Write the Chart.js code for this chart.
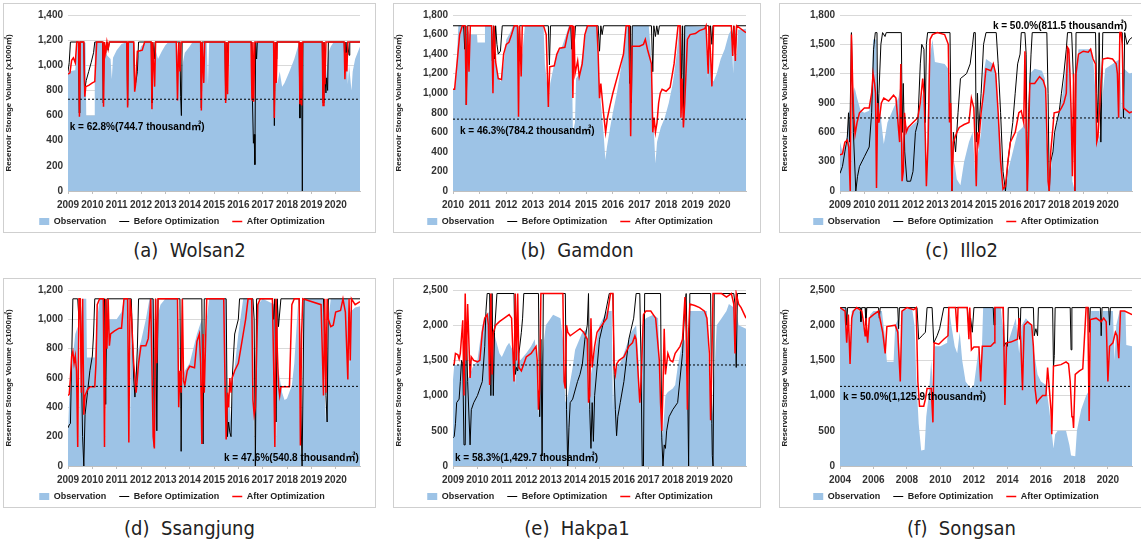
<!DOCTYPE html>
<html>
<head>
<meta charset="utf-8">
<script src="https://cdn.jsdelivr.net/npm/chart.js@4.4.1/dist/chart.umd.min.js"></script>
<style>
  body { margin: 0; background: #fff; width: 1141px; height: 544px; overflow: hidden; position: relative; }
  .box { position: absolute; border: 1px solid #cfcfcf; box-sizing: border-box; }
  .box canvas { display: block; }
  .cap { position: absolute; text-align: center; font-family: 'Liberation Sans Narrow', 'DejaVu Sans Condensed', 'Liberation Sans', sans-serif; font-size: 20px; color: #222; line-height: 24px; }
</style>
</head>
<body>
<div class="box" style="left:3px;top:3px;width:373px;height:230px"><canvas id="a" width="371" height="228"></canvas></div>
<div class="box" style="left:393px;top:3px;width:368px;height:230px"><canvas id="b" width="366" height="228"></canvas></div>
<div class="box" style="left:779px;top:3px;width:365px;height:230px"><canvas id="c" width="363" height="228"></canvas></div>
<div class="box" style="left:3px;top:278px;width:373px;height:230px"><canvas id="d" width="371" height="228"></canvas></div>
<div class="box" style="left:393px;top:278px;width:368px;height:230px"><canvas id="e" width="366" height="228"></canvas></div>
<div class="box" style="left:779px;top:278px;width:365px;height:230px"><canvas id="f" width="363" height="228"></canvas></div>
<div class="cap" style="left:3px;width:373px;top:238px">(a)&nbsp; Wolsan2</div>
<div class="cap" style="left:393px;width:368px;top:238px">(b)&nbsp; Gamdon</div>
<div class="cap" style="left:779px;width:365px;top:238px">(c)&nbsp; Illo2</div>
<div class="cap" style="left:3px;width:373px;top:516px">(d)&nbsp; Ssangjung</div>
<div class="cap" style="left:393px;width:368px;top:516px">(e)&nbsp; Hakpa1</div>
<div class="cap" style="left:779px;width:365px;top:516px">(f)&nbsp; Songsan</div>
<script>
// ---- tick labels ----
const years2009 = [2009, 2010, 2011, 2012, 2013, 2014, 2015, 2016, 2017, 2018, 2019, 2020];
const years2010 = [2010, 2011, 2012, 2013, 2014, 2015, 2016, 2017, 2018, 2019, 2020];
const years2004 = [2004, 2006, 2008, 2010, 2012, 2014, 2016, 2018, 2020];
const ticks1400 = [0, 200, 400, 600, 800, 1000, 1200, 1400];
const ticks1800 = [0, 200, 400, 600, 800, 1000, 1200, 1400, 1600, 1800];
const ticks1800b = [0, 300, 600, 900, 1200, 1500, 1800];
const ticks1200 = [0, 200, 400, 600, 800, 1000, 1200];
const ticks2500 = [0, 500, 1000, 1500, 2000, 2500];

// ---- thresholds and notes ----
const kLevels = [730, 735, 747, 543, 1435, 1131];
const kNotes = [
  'k = 62.8%(744.7 thousand㎥)',
  'k = 46.3%(784.2 thousand㎥)',
  'k = 50.0%(811.5 thousand㎥)',
  'k = 47.6%(540.8 thousand㎥)',
  'k = 58.3%(1,429.7 thousand㎥)',
  'k = 50.0%(1,125.9 thousand㎥)'
];

// ---- (a) Wolsan2 ----
const wolsanObs = [[2009.0,950],[2009.3,960],[2009.38,1180],[2009.44,1180],[2009.47,600],[2009.5,1180],[2009.72,1180],[2009.75,600],[2010.08,600],[2010.1,1180],[2010.42,1180],[2010.45,700],[2010.5,1150],[2010.6,1080],[2010.75,1050],[2010.8,890],[2010.85,1060],[2011.0,1120],[2011.2,1170],[2011.35,1180],[2011.42,1180],[2011.45,680],[2011.5,1180],[2011.7,1180],[2011.75,820],[2011.85,1050],[2012.0,1150],[2012.15,1180],[2012.42,1180],[2012.45,620],[2012.5,1180],[2012.6,1120],[2012.7,1050],[2012.85,1110],[2013.0,1160],[2013.1,1180],[2013.45,1180],[2013.5,1100],[2013.6,950],[2013.65,700],[2013.7,1000],[2013.8,1100],[2014.0,1150],[2014.1,1180],[2014.45,1180],[2014.5,640],[2014.55,1180],[2014.7,1180],[2014.75,850],[2014.8,1180],[2015.45,1180],[2015.5,720],[2015.55,1180],[2015.6,760],[2015.65,1180],[2016.5,1180],[2016.55,720],[2016.62,700],[2016.66,1180],[2017.45,1180],[2017.5,560],[2017.55,1100],[2017.6,850],[2017.7,950],[2017.8,830],[2017.9,860],[2018.1,950],[2018.3,1050],[2018.45,1150],[2018.52,1180],[2018.55,600],[2018.6,700],[2018.65,680],[2018.7,1180],[2019.45,1180],[2019.5,680],[2019.55,1100],[2019.6,900],[2019.7,1100],[2019.8,1150],[2019.9,1180],[2020.35,1180],[2020.4,900],[2020.45,1150],[2020.5,850],[2020.55,1000],[2020.65,800],[2020.7,950],[2020.8,1050],[2020.9,1100],[2021.0,1150]];
const wolsanBefore = [[2009.0,950],[2009.05,1020],[2009.1,1185],[2009.43,1185],[2009.46,620],[2009.49,1185],[2009.65,1185],[2009.68,800],[2009.75,880],[2009.85,950],[2009.95,1020],[2010.05,1100],[2010.1,1185],[2010.42,1185],[2010.45,700],[2010.48,1185],[2010.55,1100],[2010.6,1185],[2010.65,1120],[2010.7,1185],[2011.42,1185],[2011.45,680],[2011.48,1185],[2011.7,1185],[2011.74,820],[2011.8,880],[2011.85,950],[2011.9,1185],[2012.42,1185],[2012.45,700],[2012.48,1185],[2012.55,1050],[2012.58,1185],[2013.6,1185],[2013.63,750],[2013.66,600],[2013.69,1185],[2014.45,1185],[2014.48,660],[2014.51,1185],[2015.45,1185],[2015.48,720],[2015.52,1185],[2015.55,1050],[2015.58,1185],[2016.55,1185],[2016.58,720],[2016.62,380],[2016.65,450],[2016.68,210],[2016.71,1185],[2016.75,1050],[2016.78,1185],[2017.45,1185],[2017.48,520],[2017.52,1185],[2017.55,1050],[2017.58,1185],[2018.5,1185],[2018.53,580],[2018.57,1185],[2018.6,1000],[2018.63,0],[2018.66,1185],[2019.45,1185],[2019.48,700],[2019.52,1185],[2019.55,950],[2019.6,780],[2019.63,900],[2019.67,800],[2019.7,1185],[2020.35,1185],[2020.38,1000],[2020.42,1185],[2020.45,1100],[2020.48,1185],[2020.55,1080],[2020.58,1185],[2021.0,1185]];
const wolsanAfter = [[2009.0,930],[2009.08,940],[2009.15,1040],[2009.22,1060],[2009.3,1020],[2009.36,1185],[2009.44,1185],[2009.47,590],[2009.5,1185],[2009.65,1185],[2009.69,750],[2009.73,830],[2009.85,840],[2010.0,860],[2010.1,870],[2010.18,1185],[2010.43,1185],[2010.46,670],[2010.5,1185],[2010.55,1100],[2010.6,1185],[2010.65,1130],[2010.7,1185],[2011.42,1185],[2011.45,665],[2011.48,1185],[2011.7,1185],[2011.74,790],[2011.78,850],[2011.85,1110],[2012.05,1120],[2012.15,1185],[2012.42,1185],[2012.45,650],[2012.48,1185],[2012.56,830],[2012.6,1185],[2013.45,1185],[2013.5,720],[2013.55,1185],[2013.6,950],[2013.65,1185],[2014.45,1185],[2014.48,640],[2014.52,1185],[2014.58,860],[2014.62,1185],[2015.45,1185],[2015.48,700],[2015.52,1185],[2015.56,770],[2015.6,1185],[2016.52,1185],[2016.56,720],[2016.6,1185],[2016.63,710],[2016.68,1185],[2017.45,1185],[2017.48,580],[2017.52,1185],[2017.56,860],[2017.6,1185],[2018.5,1185],[2018.53,690],[2018.57,1185],[2018.6,680],[2018.64,1185],[2019.45,1185],[2019.48,680],[2019.52,1185],[2019.56,850],[2019.6,1185],[2020.35,1185],[2020.38,890],[2020.42,1100],[2020.46,950],[2020.5,1185],[2021.0,1185]];

// ---- (b) Gamdon ----
const gamdonObs = [[2010.0,1030],[2010.06,1040],[2010.12,1200],[2010.2,1690],[2010.44,1690],[2010.47,900],[2010.52,1690],[2010.62,1600],[2010.9,1600],[2010.92,1520],[2011.18,1520],[2011.2,1690],[2011.45,1690],[2011.48,1000],[2011.52,1400],[2011.6,1300],[2011.7,1150],[2011.8,1120],[2011.9,1300],[2012.0,1550],[2012.15,1620],[2012.25,1690],[2012.43,1690],[2012.46,760],[2012.5,1200],[2012.6,1400],[2012.7,1690],[2013.4,1690],[2013.45,1300],[2013.55,1050],[2013.6,850],[2013.65,1100],[2013.8,1300],[2013.9,1400],[2014.1,1480],[2014.25,1600],[2014.35,1690],[2014.45,1690],[2014.5,600],[2014.58,700],[2014.62,1150],[2014.75,1200],[2014.9,1450],[2015.0,1690],[2015.4,1690],[2015.45,1300],[2015.55,900],[2015.65,600],[2015.72,320],[2015.78,450],[2015.9,650],[2016.0,800],[2016.15,1000],[2016.3,1250],[2016.45,1500],[2016.52,1690],[2016.62,1690],[2016.66,560],[2016.72,1690],[2017.35,1690],[2017.42,1450],[2017.5,900],[2017.56,500],[2017.6,280],[2017.66,500],[2017.8,650],[2017.95,750],[2018.1,900],[2018.25,1100],[2018.4,1400],[2018.5,1690],[2018.56,750],[2018.6,700],[2018.68,1690],[2019.5,1680],[2019.55,1150],[2019.6,1600],[2019.7,1150],[2019.78,1120],[2019.9,1200],[2020.05,1350],[2020.2,1450],[2020.35,1600],[2020.45,1650],[2020.52,1200],[2020.56,1650],[2020.65,1350],[2020.7,1650],[2021.0,1660]];
const gamdonBefore = [[2010.0,1690],[2010.4,1690],[2010.44,1450],[2010.48,1690],[2010.5,880],[2010.54,1690],[2011.45,1690],[2011.48,1330],[2011.52,1690],[2011.56,1350],[2011.6,1690],[2011.65,1500],[2011.7,1400],[2011.78,1430],[2011.85,1690],[2012.43,1690],[2012.46,1380],[2012.5,1690],[2013.58,1690],[2013.62,1290],[2013.66,1690],[2014.42,1690],[2014.46,1450],[2014.5,1690],[2014.55,1500],[2014.6,1690],[2015.45,1690],[2015.5,1430],[2015.55,1690],[2015.6,1600],[2015.65,1690],[2016.6,1690],[2016.63,1100],[2016.66,1690],[2016.7,900],[2016.73,1690],[2017.45,1690],[2017.5,1220],[2017.54,1690],[2017.6,1580],[2017.65,1690],[2017.7,1600],[2017.75,1690],[2018.55,1690],[2018.58,1100],[2018.62,1690],[2018.66,800],[2018.7,1690],[2019.6,1690],[2019.63,1480],[2019.67,1690],[2019.72,1500],[2019.76,1690],[2020.45,1690],[2020.5,1500],[2020.54,1690],[2020.6,1400],[2020.64,1690],[2021.0,1690]];
const gamdonAfter = [[2010.0,1040],[2010.06,1040],[2010.15,1300],[2010.25,1600],[2010.35,1690],[2010.45,1690],[2010.5,880],[2010.55,1690],[2010.6,1220],[2010.65,1690],[2011.45,1690],[2011.5,1000],[2011.54,1690],[2011.6,1320],[2011.7,1150],[2011.82,1140],[2011.9,1400],[2012.0,1500],[2012.1,1520],[2012.2,1600],[2012.3,1690],[2012.42,1690],[2012.46,760],[2012.5,1690],[2012.56,1170],[2012.6,1690],[2013.4,1690],[2013.5,1600],[2013.58,860],[2013.63,1270],[2013.8,1280],[2013.9,1400],[2014.0,1460],[2014.2,1470],[2014.3,1600],[2014.4,1690],[2014.47,1690],[2014.5,950],[2014.54,1690],[2014.58,1200],[2014.68,1330],[2014.74,1170],[2014.85,1300],[2014.95,1600],[2015.05,1690],[2015.4,1690],[2015.45,1400],[2015.5,950],[2015.55,1100],[2015.65,800],[2015.73,600],[2015.8,750],[2015.9,880],[2016.0,1000],[2016.2,1200],[2016.4,1400],[2016.5,1690],[2016.62,1690],[2016.67,560],[2016.72,1480],[2017.0,1480],[2017.15,1500],[2017.22,1550],[2017.3,1450],[2017.45,1300],[2017.5,600],[2017.55,750],[2017.6,600],[2017.66,700],[2017.72,900],[2017.78,1000],[2017.85,1040],[2018.0,1020],[2018.15,1060],[2018.3,1300],[2018.45,1690],[2018.52,1690],[2018.56,750],[2018.6,1150],[2018.65,650],[2018.7,900],[2018.8,1550],[2018.9,1600],[2019.1,1610],[2019.25,1640],[2019.45,1660],[2019.5,1690],[2019.58,1200],[2019.62,1690],[2019.72,1070],[2019.78,1690],[2020.45,1690],[2020.5,1380],[2020.55,1690],[2020.6,1330],[2020.65,1690],[2021.0,1620]];

// ---- (c) Illo2 ----
const illoObs = [[2009.0,500],[2009.1,400],[2009.25,480],[2009.38,820],[2009.42,820],[2009.45,0],[2009.5,900],[2009.6,1060],[2009.7,950],[2009.85,820],[2010.0,800],[2010.2,820],[2010.3,1000],[2010.36,1550],[2010.5,1550],[2010.55,600],[2010.6,1000],[2010.7,700],[2010.8,480],[2010.95,700],[2011.2,850],[2011.4,950],[2011.5,1100],[2011.55,480],[2011.65,700],[2011.8,640],[2012.0,680],[2012.2,720],[2012.4,1000],[2012.5,1150],[2012.55,100],[2012.65,1300],[2012.8,1550],[2012.9,1320],[2013.3,1300],[2013.45,1250],[2013.52,800],[2013.6,0],[2013.7,300],[2013.8,120],[2013.95,60],[2014.1,300],[2014.3,500],[2014.45,600],[2014.55,200],[2014.62,300],[2014.8,600],[2014.9,1200],[2015.0,1350],[2015.3,1300],[2015.42,1200],[2015.5,800],[2015.6,500],[2015.7,100],[2015.8,0],[2015.9,200],[2016.1,400],[2016.3,600],[2016.5,650],[2016.62,700],[2016.7,0],[2016.8,1200],[2017.0,1250],[2017.3,1230],[2017.42,1150],[2017.5,500],[2017.6,0],[2017.7,300],[2017.8,500],[2017.9,700],[2018.0,800],[2018.15,1000],[2018.3,1300],[2018.45,1450],[2018.55,100],[2018.65,0],[2018.72,1200],[2018.8,1450],[2019.3,1450],[2019.42,1300],[2019.5,1000],[2019.6,500],[2019.7,600],[2019.8,1000],[2019.9,1250],[2020.2,1300],[2020.5,1350],[2020.58,800],[2020.68,1250],[2020.9,1200],[2021.0,1210]];
const illoBefore = [[2009.0,180],[2009.1,250],[2009.2,400],[2009.3,550],[2009.35,800],[2009.4,500],[2009.47,1620],[2009.55,600],[2009.65,0],[2009.72,150],[2009.8,250],[2010.0,350],[2010.2,450],[2010.3,800],[2010.38,1450],[2010.45,1620],[2010.52,1620],[2010.55,700],[2010.6,1000],[2010.68,1500],[2010.75,1620],[2010.85,1580],[2010.9,1620],[2011.52,1620],[2011.56,600],[2011.6,1100],[2011.66,400],[2011.75,100],[2011.9,100],[2012.0,200],[2012.1,600],[2012.2,700],[2012.3,1300],[2012.36,1500],[2012.45,1450],[2012.5,700],[2012.55,1500],[2012.6,1620],[2013.52,1620],[2013.56,800],[2013.6,0],[2013.66,600],[2013.75,400],[2013.85,800],[2013.95,1150],[2014.2,1200],[2014.35,1300],[2014.45,1500],[2014.5,1620],[2014.56,1620],[2014.6,500],[2014.65,1000],[2014.7,600],[2014.8,1000],[2014.9,1500],[2015.0,1620],[2015.42,1620],[2015.5,1300],[2015.6,800],[2015.7,200],[2015.8,0],[2015.9,300],[2016.0,500],[2016.1,700],[2016.2,1000],[2016.3,1300],[2016.4,1400],[2016.45,1620],[2016.6,1620],[2016.65,1400],[2016.7,0],[2016.75,800],[2016.85,1400],[2016.9,1620],[2017.5,1620],[2017.55,1000],[2017.6,0],[2017.66,300],[2017.75,400],[2017.82,600],[2017.9,700],[2018.0,800],[2018.1,1000],[2018.2,1200],[2018.3,1450],[2018.35,1620],[2018.52,1620],[2018.6,1100],[2018.65,0],[2018.7,1620],[2019.5,1620],[2019.55,1000],[2019.6,700],[2019.65,1620],[2019.72,500],[2019.8,1620],[2020.6,1620],[2020.65,750],[2020.7,1620],[2020.8,1500],[2020.9,1550],[2021.0,1570]];
const illoAfter = [[2009.0,370],[2009.1,380],[2009.2,500],[2009.3,520],[2009.36,450],[2009.42,0],[2009.47,1600],[2009.52,1100],[2009.56,800],[2009.62,580],[2009.7,700],[2009.8,800],[2010.0,850],[2010.2,850],[2010.3,1000],[2010.36,1200],[2010.42,1100],[2010.46,1000],[2010.5,30],[2010.55,900],[2010.6,700],[2010.7,900],[2010.8,950],[2011.0,920],[2011.2,980],[2011.3,950],[2011.45,500],[2011.5,1300],[2011.55,100],[2011.6,200],[2011.65,800],[2011.72,600],[2011.8,650],[2012.0,700],[2012.2,750],[2012.3,900],[2012.4,1150],[2012.45,1000],[2012.5,600],[2012.55,50],[2012.62,500],[2012.7,1550],[2012.8,1600],[2013.0,1620],[2013.3,1600],[2013.45,1500],[2013.5,700],[2013.55,900],[2013.6,0],[2013.66,500],[2013.8,600],[2013.9,650],[2014.1,680],[2014.3,700],[2014.4,950],[2014.5,850],[2014.55,500],[2014.6,50],[2014.65,600],[2014.7,500],[2014.8,800],[2014.9,1000],[2015.0,1250],[2015.2,1230],[2015.3,1300],[2015.4,1200],[2015.5,800],[2015.6,300],[2015.7,20],[2015.8,50],[2015.9,300],[2016.0,500],[2016.2,600],[2016.35,800],[2016.45,820],[2016.55,700],[2016.6,1430],[2016.65,600],[2016.7,0],[2016.8,1100],[2017.0,1100],[2017.2,1170],[2017.35,1130],[2017.45,1050],[2017.5,600],[2017.55,100],[2017.6,0],[2017.66,400],[2017.75,650],[2017.8,800],[2018.0,810],[2018.1,850],[2018.2,900],[2018.3,1000],[2018.35,1470],[2018.4,1450],[2018.45,1200],[2018.5,800],[2018.55,150],[2018.6,1200],[2018.65,0],[2018.7,1200],[2018.8,1400],[2019.0,1430],[2019.2,1420],[2019.3,1450],[2019.4,1350],[2019.5,1300],[2019.55,500],[2019.6,550],[2019.7,1000],[2019.8,1350],[2020.0,1360],[2020.2,1350],[2020.35,1300],[2020.4,1200],[2020.45,750],[2020.5,1620],[2020.55,1620],[2020.6,1500],[2020.65,850],[2020.8,820],[2020.9,800],[2021.0,810]];

// ---- (d) Ssangjung ----
const ssangjungObs = [[2009.0,230],[2009.05,460],[2009.2,750],[2009.3,900],[2009.4,950],[2009.45,130],[2009.5,950],[2009.6,1140],[2009.75,1140],[2009.78,740],[2010.1,740],[2010.2,1000],[2010.3,1140],[2010.5,1140],[2010.55,130],[2010.6,1000],[2011.0,1000],[2011.2,1050],[2011.3,1140],[2011.5,1140],[2011.55,170],[2011.6,1140],[2011.7,700],[2011.8,600],[2011.9,800],[2012.0,850],[2012.2,1000],[2012.35,1140],[2012.5,1140],[2012.55,120],[2012.65,1000],[2012.8,1100],[2013.0,1140],[2013.5,1140],[2013.6,400],[2013.65,100],[2013.7,600],[2013.8,650],[2014.0,700],[2014.3,900],[2014.5,1000],[2014.55,150],[2014.6,600],[2014.7,1000],[2014.8,1140],[2015.5,1140],[2015.55,200],[2015.6,500],[2015.7,300],[2015.8,600],[2016.0,900],[2016.2,1140],[2016.6,1140],[2016.65,50],[2016.7,400],[2016.8,1100],[2017.0,1140],[2017.5,1100],[2017.55,130],[2017.6,700],[2017.8,500],[2017.9,450],[2018.0,460],[2018.2,550],[2018.3,700],[2018.45,1100],[2018.55,150],[2018.6,0],[2018.7,1140],[2019.5,1140],[2019.55,500],[2019.6,300],[2019.7,1000],[2019.8,1140],[2020.5,1140],[2020.55,600],[2020.6,1050],[2020.8,1080],[2021.0,1090]];
const ssangjungBefore = [[2009.0,260],[2009.05,280],[2009.1,290],[2009.2,1140],[2009.4,1140],[2009.45,1000],[2009.5,1140],[2009.6,200],[2009.65,0],[2009.7,350],[2009.8,500],[2009.9,650],[2010.0,750],[2010.05,900],[2010.1,1140],[2010.5,1140],[2010.55,420],[2010.6,1140],[2011.6,1140],[2011.7,600],[2011.75,470],[2011.8,600],[2011.85,800],[2011.9,1140],[2012.5,1140],[2012.55,130],[2012.6,1140],[2012.65,240],[2012.7,1140],[2013.6,1140],[2013.65,100],[2013.7,1140],[2014.5,1140],[2014.55,150],[2014.6,1140],[2015.5,1140],[2015.55,200],[2015.6,300],[2015.65,230],[2015.7,200],[2015.75,600],[2015.85,900],[2016.0,1000],[2016.05,1140],[2016.6,1140],[2016.65,1000],[2016.7,0],[2016.75,1140],[2017.4,1140],[2017.45,1000],[2017.5,1140],[2017.55,300],[2017.6,1140],[2017.65,950],[2017.75,1140],[2018.5,1140],[2018.6,150],[2018.62,0],[2018.7,1140],[2019.5,1140],[2019.6,480],[2019.65,300],[2019.7,1140],[2021.0,1140]];
const ssangjungAfter = [[2009.0,480],[2009.05,490],[2009.1,600],[2009.15,750],[2009.2,780],[2009.25,700],[2009.3,750],[2009.35,650],[2009.4,130],[2009.45,1140],[2009.5,1140],[2009.55,500],[2009.6,1140],[2009.65,350],[2009.7,480],[2009.8,520],[2009.9,540],[2010.1,540],[2010.15,700],[2010.2,1100],[2010.3,1140],[2010.45,1140],[2010.5,130],[2010.55,1140],[2010.6,800],[2010.65,1140],[2010.7,820],[2010.75,900],[2010.9,920],[2011.1,940],[2011.2,940],[2011.3,1140],[2011.45,1140],[2011.5,160],[2011.55,1140],[2011.6,1050],[2011.7,700],[2011.8,500],[2011.9,700],[2012.0,820],[2012.2,820],[2012.3,870],[2012.4,1140],[2012.5,200],[2012.55,120],[2012.6,1140],[2012.65,700],[2012.7,1140],[2013.5,1140],[2013.55,400],[2013.6,650],[2013.65,500],[2013.7,1140],[2013.75,580],[2013.8,550],[2013.9,650],[2014.0,680],[2014.2,670],[2014.3,850],[2014.4,900],[2014.45,700],[2014.5,150],[2014.55,900],[2014.6,500],[2014.7,1140],[2015.4,1140],[2015.45,600],[2015.5,180],[2015.55,500],[2015.6,400],[2015.65,600],[2015.7,500],[2015.75,600],[2015.85,650],[2016.0,700],[2016.1,800],[2016.2,900],[2016.3,1000],[2016.4,1140],[2016.55,1140],[2016.6,450],[2016.65,350],[2016.7,400],[2016.8,1100],[2016.9,1140],[2017.4,1140],[2017.45,700],[2017.5,130],[2017.55,1140],[2017.6,800],[2017.65,550],[2017.7,480],[2017.75,540],[2018.1,540],[2018.2,1100],[2018.3,1140],[2018.5,1140],[2018.55,140],[2018.6,900],[2018.65,1140],[2019.4,1100],[2019.5,480],[2019.55,1140],[2019.6,500],[2019.65,1140],[2019.7,1000],[2019.8,950],[2019.9,960],[2020.0,1050],[2020.2,1060],[2020.3,1140],[2020.4,1050],[2020.5,590],[2020.55,1140],[2020.6,720],[2020.65,1140],[2020.8,1100],[2021.0,1120]];

// ---- (e) Hakpa1 ----
const hakpaObs = [[2009.0,1230],[2009.05,1430],[2009.4,1450],[2009.45,1000],[2009.5,2400],[2009.55,1200],[2009.7,1300],[2009.8,1400],[2010.0,1500],[2010.2,2000],[2010.3,2100],[2010.5,2200],[2010.55,1100],[2010.6,2000],[2010.75,1800],[2010.9,1600],[2011.0,1550],[2011.2,1700],[2011.3,1750],[2011.5,1600],[2011.55,1150],[2011.6,1700],[2011.75,1500],[2012.0,1600],[2012.2,1700],[2012.35,1800],[2012.45,1400],[2012.5,700],[2012.6,1400],[2012.8,2000],[2013.0,2100],[2013.1,2150],[2013.4,2100],[2013.5,1800],[2013.6,900],[2013.7,1000],[2013.9,1400],[2014.0,1650],[2014.3,1900],[2014.5,1950],[2014.55,800],[2014.6,1200],[2014.8,1600],[2015.0,2000],[2015.3,2200],[2015.5,2200],[2015.55,800],[2015.6,1300],[2015.7,1400],[2015.9,1500],[2016.1,1700],[2016.3,1900],[2016.5,2000],[2016.6,1500],[2016.65,900],[2016.75,2000],[2016.9,2100],[2017.2,2150],[2017.4,2100],[2017.5,1000],[2017.55,400],[2017.6,500],[2017.7,1000],[2017.8,1050],[2018.0,1100],[2018.1,1150],[2018.2,1400],[2018.35,1700],[2018.5,1800],[2018.6,900],[2018.7,2200],[2019.0,2200],[2019.4,2200],[2019.5,1200],[2019.6,700],[2019.65,900],[2019.8,2000],[2020.0,2100],[2020.2,2200],[2020.3,2300],[2020.5,2250],[2020.55,1500],[2020.6,2200],[2020.7,2000],[2021.0,1950]];
const hakpaBefore = [[2009.0,400],[2009.05,420],[2009.1,600],[2009.15,900],[2009.25,950],[2009.3,1200],[2009.35,1500],[2009.4,1450],[2009.45,300],[2009.5,300],[2009.55,1900],[2009.6,1200],[2009.7,300],[2009.75,800],[2009.85,900],[2010.0,1000],[2010.2,1200],[2010.3,1700],[2010.35,2200],[2010.4,2450],[2010.5,2450],[2010.55,1000],[2010.6,2450],[2010.65,1000],[2010.7,1900],[2010.8,2450],[2011.5,2450],[2011.55,1300],[2011.6,1400],[2011.65,1350],[2011.7,1600],[2011.8,1900],[2011.85,2100],[2011.9,2450],[2012.5,2450],[2012.55,700],[2012.6,1800],[2012.65,150],[2012.7,2450],[2013.6,2450],[2013.65,800],[2013.7,0],[2013.75,550],[2013.8,900],[2013.9,950],[2014.1,1200],[2014.2,1300],[2014.3,1450],[2014.4,1800],[2014.5,2000],[2014.55,2450],[2014.6,800],[2014.65,250],[2014.7,900],[2014.75,350],[2014.8,1000],[2015.0,1800],[2015.2,2100],[2015.4,2450],[2015.55,2450],[2015.6,1300],[2015.65,800],[2015.7,430],[2015.75,700],[2015.85,900],[2016.0,1200],[2016.2,1800],[2016.4,2100],[2016.5,2450],[2016.65,2450],[2016.7,1500],[2016.75,0],[2016.8,0],[2016.85,2450],[2017.5,2450],[2017.55,400],[2017.6,0],[2017.65,300],[2017.7,250],[2017.75,500],[2017.85,700],[2018.0,800],[2018.2,900],[2018.4,1600],[2018.5,2300],[2018.55,2450],[2018.6,1400],[2018.65,0],[2018.7,2450],[2019.55,2450],[2019.6,600],[2019.62,150],[2019.65,0],[2019.7,2450],[2020.5,2450],[2020.55,2300],[2020.6,1400],[2020.65,2450],[2021.0,2450]];
const hakpaAfter = [[2009.0,1430],[2009.05,1450],[2009.1,1600],[2009.2,1580],[2009.25,1520],[2009.3,1600],[2009.4,2070],[2009.45,1000],[2009.5,2450],[2009.55,1500],[2009.6,2300],[2009.7,1250],[2009.75,1550],[2009.85,1500],[2010.0,1480],[2010.1,1500],[2010.2,1900],[2010.3,2100],[2010.4,2150],[2010.45,2000],[2010.5,1150],[2010.55,2450],[2010.6,1300],[2010.65,1900],[2010.75,2000],[2010.9,2050],[2011.1,2100],[2011.3,2150],[2011.4,2100],[2011.5,1200],[2011.55,2450],[2011.6,1500],[2011.65,2450],[2011.7,1400],[2011.8,1350],[2011.9,1450],[2012.0,1550],[2012.2,1600],[2012.4,1700],[2012.45,1500],[2012.5,800],[2012.55,1100],[2012.6,2450],[2013.5,2450],[2013.55,1200],[2013.6,1100],[2013.65,2000],[2013.7,1900],[2013.8,1850],[2014.0,1900],[2014.2,1950],[2014.35,1900],[2014.5,1800],[2014.55,900],[2014.6,1000],[2014.65,2100],[2014.7,1400],[2014.8,1700],[2014.9,1900],[2015.0,1950],[2015.2,2050],[2015.3,2100],[2015.45,2450],[2015.55,2450],[2015.6,1400],[2015.65,1300],[2015.7,1450],[2015.8,1500],[2016.0,1550],[2016.2,1700],[2016.35,1750],[2016.45,1850],[2016.5,1800],[2016.6,1200],[2016.65,900],[2016.7,1200],[2016.8,2150],[2016.9,2200],[2017.1,2200],[2017.3,2100],[2017.45,1500],[2017.5,900],[2017.55,500],[2017.6,1100],[2017.65,1950],[2017.7,1300],[2017.8,1600],[2017.9,1500],[2018.0,1480],[2018.1,1600],[2018.2,1650],[2018.3,1700],[2018.4,1800],[2018.5,2400],[2018.55,1900],[2018.6,800],[2018.65,1900],[2018.7,2300],[2018.9,2280],[2019.1,2250],[2019.3,2200],[2019.4,2100],[2019.5,1600],[2019.55,650],[2019.6,1500],[2019.65,2450],[2020.0,2450],[2020.2,2400],[2020.4,2450],[2020.5,2300],[2020.55,1600],[2020.6,2450],[2020.7,2300],[2020.8,2250],[2021.0,2100]];

// ---- (f) Songsan ----
const songsanObs = [[2004.0,2230],[2004.35,2250],[2004.5,2050],[2004.6,1700],[2004.7,2200],[2005.0,2250],[2005.3,2150],[2005.5,1850],[2005.65,1900],[2005.8,2150],[2006.0,2200],[2006.5,2200],[2006.7,1800],[2006.8,1480],[2007.2,1480],[2007.3,2000],[2007.5,2100],[2007.6,1200],[2007.7,2200],[2008.3,2250],[2008.45,2000],[2008.55,1300],[2008.7,600],[2008.85,220],[2009.05,230],[2009.15,700],[2009.3,1000],[2009.45,1500],[2009.55,1100],[2009.65,1700],[2010.0,1700],[2010.4,1750],[2010.5,2250],[2010.65,2000],[2010.85,1700],[2011.0,1600],[2011.15,1900],[2011.3,1500],[2011.5,1200],[2011.8,1100],[2012.0,1150],[2012.3,1700],[2012.42,1250],[2012.55,2250],[2013.6,2250],[2013.75,1900],[2013.9,1700],[2014.1,1800],[2014.5,2100],[2014.7,1600],[2014.85,2000],[2015.1,2100],[2015.45,2000],[2015.6,1600],[2015.8,1300],[2016.0,1200],[2016.3,1150],[2016.5,800],[2016.75,250],[2016.85,450],[2017.0,500],[2017.5,500],[2017.7,300],[2017.8,150],[2018.05,140],[2018.15,500],[2018.4,800],[2018.7,1000],[2018.95,1100],[2019.0,2200],[2019.5,2200],[2019.6,1850],[2019.7,2200],[2020.3,2200],[2020.4,1500],[2020.5,2000],[2020.7,2200],[2021.05,2200],[2021.1,1720],[2021.44,1700]];
const songsanBefore = [[2004.0,2250],[2004.35,2250],[2004.4,2000],[2004.45,2250],[2005.2,2250],[2005.25,2050],[2005.3,2250],[2005.5,2250],[2005.55,2000],[2005.6,2250],[2006.3,2250],[2006.35,2100],[2006.4,2250],[2007.45,2250],[2007.5,1950],[2007.55,2250],[2008.6,2250],[2008.7,1800],[2008.9,1850],[2009.1,1900],[2009.2,2250],[2009.5,2250],[2009.6,1750],[2009.8,1850],[2009.95,1950],[2010.1,2130],[2010.2,2250],[2011.6,2250],[2011.7,1950],[2011.8,2100],[2011.9,1900],[2012.0,2250],[2013.15,2250],[2013.2,2000],[2013.25,2250],[2013.75,2250],[2013.8,1700],[2013.9,1750],[2014.0,1700],[2014.05,2250],[2014.65,2250],[2014.7,1850],[2014.75,1800],[2014.8,2250],[2015.55,2250],[2015.6,1850],[2015.7,1950],[2015.8,1850],[2015.85,2250],[2016.7,2250],[2016.75,1400],[2016.8,1570],[2016.85,2250],[2017.75,2250],[2017.8,1650],[2017.85,2250],[2018.85,2250],[2018.9,1900],[2018.95,2250],[2019.55,2250],[2019.6,1850],[2019.65,2250],[2020.05,2250],[2020.1,2000],[2020.15,2250],[2021.44,2250]];
const songsanAfter = [[2004.0,2250],[2004.3,2200],[2004.4,1750],[2004.5,2150],[2004.6,1450],[2004.7,2100],[2004.8,2200],[2005.0,2250],[2005.3,2200],[2005.4,2050],[2005.5,1850],[2005.55,2100],[2005.65,1750],[2005.75,2100],[2006.0,2150],[2006.3,2200],[2006.55,1900],[2006.7,1600],[2006.8,1980],[2007.3,2000],[2007.45,1900],[2007.6,1200],[2007.7,2200],[2008.0,2250],[2008.4,2220],[2008.55,2250],[2008.65,1200],[2008.75,850],[2009.0,850],[2009.1,950],[2009.2,1100],[2009.45,1100],[2009.55,620],[2009.62,1750],[2009.9,1730],[2010.2,1800],[2010.45,1850],[2010.5,2250],[2010.9,2250],[2011.0,1900],[2011.05,2250],[2011.6,2250],[2011.7,1800],[2011.75,2250],[2011.85,1650],[2012.0,1690],[2012.3,1690],[2012.4,1200],[2012.5,1700],[2013.0,1700],[2013.2,1750],[2013.25,2250],[2013.75,2250],[2013.85,865],[2013.95,1750],[2014.2,1760],[2014.6,1800],[2014.7,2100],[2014.8,1750],[2014.9,1075],[2015.0,2000],[2015.2,2050],[2015.45,2000],[2015.55,1700],[2015.65,1100],[2015.75,900],[2015.9,950],[2016.1,1000],[2016.3,1000],[2016.4,1400],[2016.5,1100],[2016.6,800],[2016.65,450],[2016.75,1420],[2017.2,1440],[2017.5,1480],[2017.65,1450],[2017.75,1200],[2017.85,700],[2017.9,700],[2017.95,540],[2018.05,1300],[2018.3,1350],[2018.5,1380],[2018.7,2250],[2018.8,2250],[2018.88,640],[2018.95,2080],[2019.3,2100],[2019.6,2050],[2019.75,2100],[2019.9,2050],[2020.0,1200],[2020.1,1700],[2020.3,1750],[2020.45,1900],[2020.55,1850],[2020.65,1530],[2020.75,2200],[2021.0,2200],[2021.44,2150]];

Chart.defaults.font.family = "'Liberation Sans', 'Noto Sans CJK KR', sans-serif";
Chart.defaults.color = '#333';

const panels = [
  { id: 'a', obs: wolsanObs, before: wolsanBefore, after: wolsanAfter, years: years2009, yTicks: ticks1400, xMin: 2009, xMax: 2021, k: kLevels[0], note: kNotes[0], noteX: 2009.07, noteY: 510, noteAlign: 'left', yw: 64, padR: 15 },
  { id: 'b', obs: gamdonObs, before: gamdonBefore, after: gamdonAfter, years: years2010, yTicks: ticks1800, xMin: 2010, xMax: 2021, k: kLevels[1], note: kNotes[1], noteX: 2010.26, noteY: 613, noteAlign: 'left', yw: 59, padR: 14 },
  { id: 'c', obs: illoObs, before: illoBefore, after: illoAfter, years: years2009, yTicks: ticks1800b, xMin: 2009, xMax: 2021, k: kLevels[2], note: kNotes[2], noteX: 2020.8, noteY: 1690, noteAlign: 'right', yw: 60, padR: 11 },
  { id: 'd', obs: ssangjungObs, before: ssangjungBefore, after: ssangjungAfter, years: years2009, yTicks: ticks1200, xMin: 2009, xMax: 2021, k: kLevels[3], note: kNotes[3], noteX: 2020.95, noteY: 54, noteAlign: 'right', yw: 64, padR: 15 },
  { id: 'e', obs: hakpaObs, before: hakpaBefore, after: hakpaAfter, years: years2009, yTicks: ticks2500, xMin: 2009, xMax: 2021, k: kLevels[4], note: kNotes[4], noteX: 2009.08, noteY: 112, noteAlign: 'left', yw: 59, padR: 14 },
  { id: 'f', obs: songsanObs, before: songsanBefore, after: songsanAfter, years: years2004, yTicks: ticks2500, xMin: 2004, xMax: 2021.44, k: kLevels[5], note: kNotes[5], noteX: 2004.18, noteY: 978, noteAlign: 'left', yw: 60, padR: 11 }
];

const notePlugin = {
  id: 'kNote',
  afterLayout(chart) {
    // lift the legend row so item spacing and row height can differ
    chart.legend.top -= 7;
    chart.legend.bottom -= 7;
  },
  afterDatasetsDraw(chart, args, opts) {
    const { ctx, scales } = chart;
    ctx.save();
    ctx.font = "bold 10px 'Liberation Sans', 'Noto Sans CJK KR', sans-serif";
    ctx.fillStyle = '#000';
    ctx.textAlign = opts.align;
    ctx.textBaseline = 'middle';
    ctx.fillText(opts.text, scales.x.getPixelForValue(opts.x), scales.y.getPixelForValue(opts.y));
    ctx.restore();
  }
};

panels.forEach(p => {
  new Chart(document.getElementById(p.id), {
    type: 'line',
    data: {
      datasets: [
        { label: 'Observation', data: p.obs, fill: 'origin', backgroundColor: '#9dc3e6', borderColor: '#9dc3e6', borderWidth: 0, pointRadius: 0, pointStyle: 'rect', order: 3 },
        { label: 'Before Optimization', data: p.before, borderColor: '#000', backgroundColor: '#000', borderWidth: 1, pointRadius: 0, pointStyle: 'line', order: 2 },
        { label: 'After Optimization', data: p.after, borderColor: '#ff0000', backgroundColor: '#ff0000', borderWidth: 1.5, pointRadius: 0, pointStyle: 'line', order: 1 },
        { label: 'k', data: [[p.xMin, p.k], [p.xMax, p.k]], borderColor: '#000', borderWidth: 1, borderDash: [2, 2], pointRadius: 0, order: 0 }
      ]
    },
    options: {
      responsive: false,
      animation: false,
      devicePixelRatio: 1,
      layout: { padding: { top: 9, right: p.padR, left: 0, bottom: 0 } },
      scales: {
        x: {
          type: 'linear', min: p.xMin, max: p.xMax,
          afterBuildTicks: s => { s.ticks = p.years.map(v => ({ value: v })); },
          afterFit: s => { s.height = 20; },
          ticks: { autoSkip: false, maxRotation: 0, padding: 5, font: { size: 10, weight: 'bold' }, color: '#333', callback: v => String(v) },
          grid: { display: true, drawOnChartArea: false, drawTicks: true, tickLength: 3, color: '#bfbfbf' },
          border: { color: '#bfbfbf' }
        },
        y: {
          min: 0, max: p.yTicks[p.yTicks.length - 1],
          afterBuildTicks: s => { s.ticks = p.yTicks.map(v => ({ value: v })); },
          afterFit: s => { s.width = p.yw; },
          ticks: { padding: 5, font: { size: 10, weight: 'bold' }, color: '#333', callback: v => v.toLocaleString('en-US') },
          grid: { color: '#d9d9d9', drawTicks: false },
          border: { display: false },
          title: { display: true, text: 'Reservoir Storage Volume (x1000㎥)', font: { size: 8, weight: 'bold' }, color: '#222', padding: { top: 0, bottom: 3 } }
        }
      },
      plugins: {
        legend: {
          position: 'bottom',
          reverse: true,
          maxHeight: 21,
          labels: {
            usePointStyle: true, pointStyleWidth: 10, boxHeight: 7, padding: 13,
            font: { size: 9, weight: 'bold' }, color: '#222',
            filter: item => item.text !== 'k'
          }
        },
        tooltip: { enabled: false },
        kNote: { text: p.note, x: p.noteX, y: p.noteY, align: p.noteAlign }
      }
    },
    plugins: [notePlugin]
  });
});
</script>
</body>
</html>
